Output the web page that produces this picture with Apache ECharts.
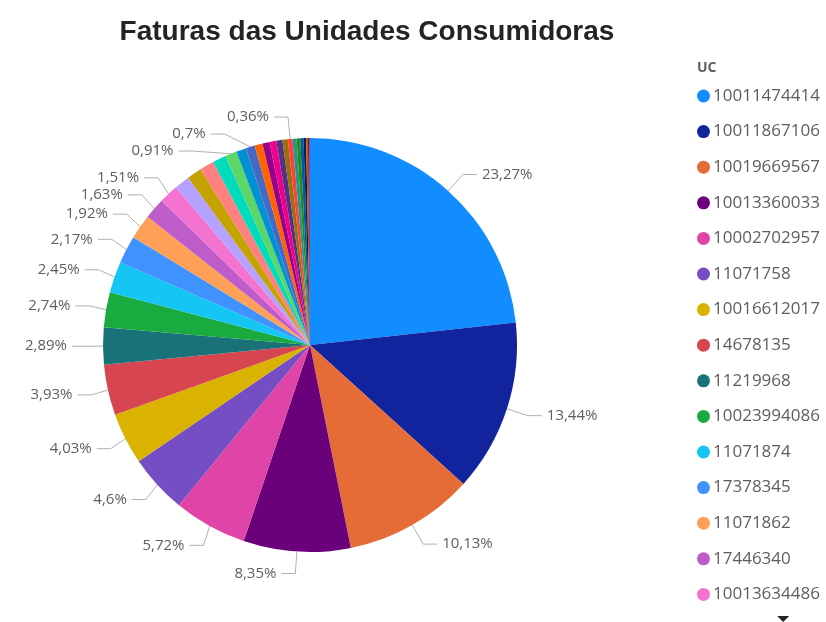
<!DOCTYPE html>
<html>
<head>
<meta charset="utf-8">
<script src="https://cdn.jsdelivr.net/npm/echarts@6/dist/echarts.min.js"></script>
<style>
  html, body { margin: 0; padding: 0; background: #fff; }
  #grafico { width: 826px; height: 622px; }
</style>
</head>
<body>
<div id="grafico"></div>
<script>
// Unidades consumidoras (ordem decrescente, como no visual)
const unidades = [
    '10011474414', '10011867106', '10019669567', '10013360033', '10002702957',
    '11071758', '10016612017', '14678135', '11219968', '10023994086',
    '11071874', '17378345', '11071862', '17446340', '10013634486',
    'UC 16', 'UC 17', 'UC 18', 'UC 19', 'UC 20',
    'UC 21', 'UC 22', 'UC 23', 'UC 24', 'UC 25',
    'UC 26', 'UC 27', 'UC 28', 'UC 29', 'UC 30',
    'UC 31', 'UC 32', 'UC 33', 'UC 34', 'UC 35'
];

// Percentual de cada fatura (%)
const percentuais = [
    23.27, 13.44, 10.13, 8.35, 5.72,
    4.6, 4.03, 3.93, 2.89, 2.74,
    2.45, 2.17, 1.92, 1.63, 1.51,
    1.2, 1.15, 1.12, 1.05, 0.91,
    0.78, 0.7, 0.62, 0.56, 0.52,
    0.48, 0.42, 0.36, 0.32, 0.28,
    0.25, 0.2, 0.15, 0.1, 0.05
];

// Rótulos que aparecem no gráfico (os demais ficam ocultos)
const rotulosVisiveis = [
    23.27, 13.44, 10.13, 8.35, 5.72, 4.6, 4.03, 3.93, 2.89, 2.74,
    2.45, 2.17, 1.92, 1.63, 1.51, 0.91, 0.7, 0.36
];

// Paleta padrão do Power BI
const cores = [
    '#118DFF', '#12239E', '#E66C37', '#6B007B', '#E044A7',
    '#744EC2', '#D9B300', '#D64550', '#197278', '#1AAB40',
    '#15C6F4', '#4092FF', '#FFA058', '#BE5DC9', '#F472D0',
    '#B5A1FF', '#C4A200', '#FF8080', '#00DBBC', '#5BD667',
    '#0091D5', '#4668C5', '#FF6300', '#99008A', '#EC008C',
    '#533285', '#99700A', '#FF4141', '#1F9A85', '#25891C',
    '#0057A2', '#002050', '#C94F0F', '#450F54', '#B60064'
];

const myChart = echarts.init(document.getElementById('grafico'));

const dados = unidades.map((nome, i) => ({
    name: nome,
    value: percentuais[i],
    label: {show: rotulosVisiveis.includes(percentuais[i])},
    labelLine: {show: rotulosVisiveis.includes(percentuais[i])}
}));

let option = {
    color: cores,
    animation: false,
    title: [
        {
            text: 'Faturas das Unidades Consumidoras',
            left: 362,
            textAlign: 'center',
            top: 13,
            textStyle: {
                fontFamily: 'Liberation Sans',
                fontSize: 28,
                fontWeight: 'bold',
                color: '#252423'
            }
        },
        {
            text: 'UC',
            left: 692,
            top: 56,
            textStyle: {
                fontFamily: 'Open Sans',
                fontSize: 14,
                fontWeight: 'bold',
                color: '#605E5C'
            }
        }
    ],
    legend: {
        type: 'scroll',
        orient: 'vertical',
        left: 692,
        top: 81,
        height: 539,
        icon: 'circle',
        itemWidth: 13,
        itemHeight: 13,
        itemGap: 15.6,
        textStyle: {
            fontFamily: 'Open Sans',
            fontSize: 17,
            lineHeight: 20,
            color: '#605E5C',
            padding: [0, 0, 0, -2]
        },
        pageFormatter: () => '',
        pageButtonGap: 0,
        pageIconSize: 12,
        pageIconColor: '#252423',
        pageIconInactiveColor: '#ffffff',
        pageIcons: {
            vertical: ['path://M0,10L10,10L5,0Z', 'path://M0,0L12,0L6,6Z']
        }
    },
    series: [
        {
            type: 'pie',
            center: [310, 345],
            radius: 207,
            startAngle: 90,
            clockwise: true,
            data: dados,
            label: {
                show: true,
                formatter: p => String(p.value).replace('.', ',') + '%',
                fontFamily: 'Open Sans',
                fontSize: 15,
                color: '#605E5C'
            },
            labelLine: {
                length: 22,
                length2: 14,
                lineStyle: {color: '#B3B0AD', width: 1}
            },
            emphasis: {disabled: true}
        }
    ]
};

myChart.setOption(option);
</script>
</body>
</html>
